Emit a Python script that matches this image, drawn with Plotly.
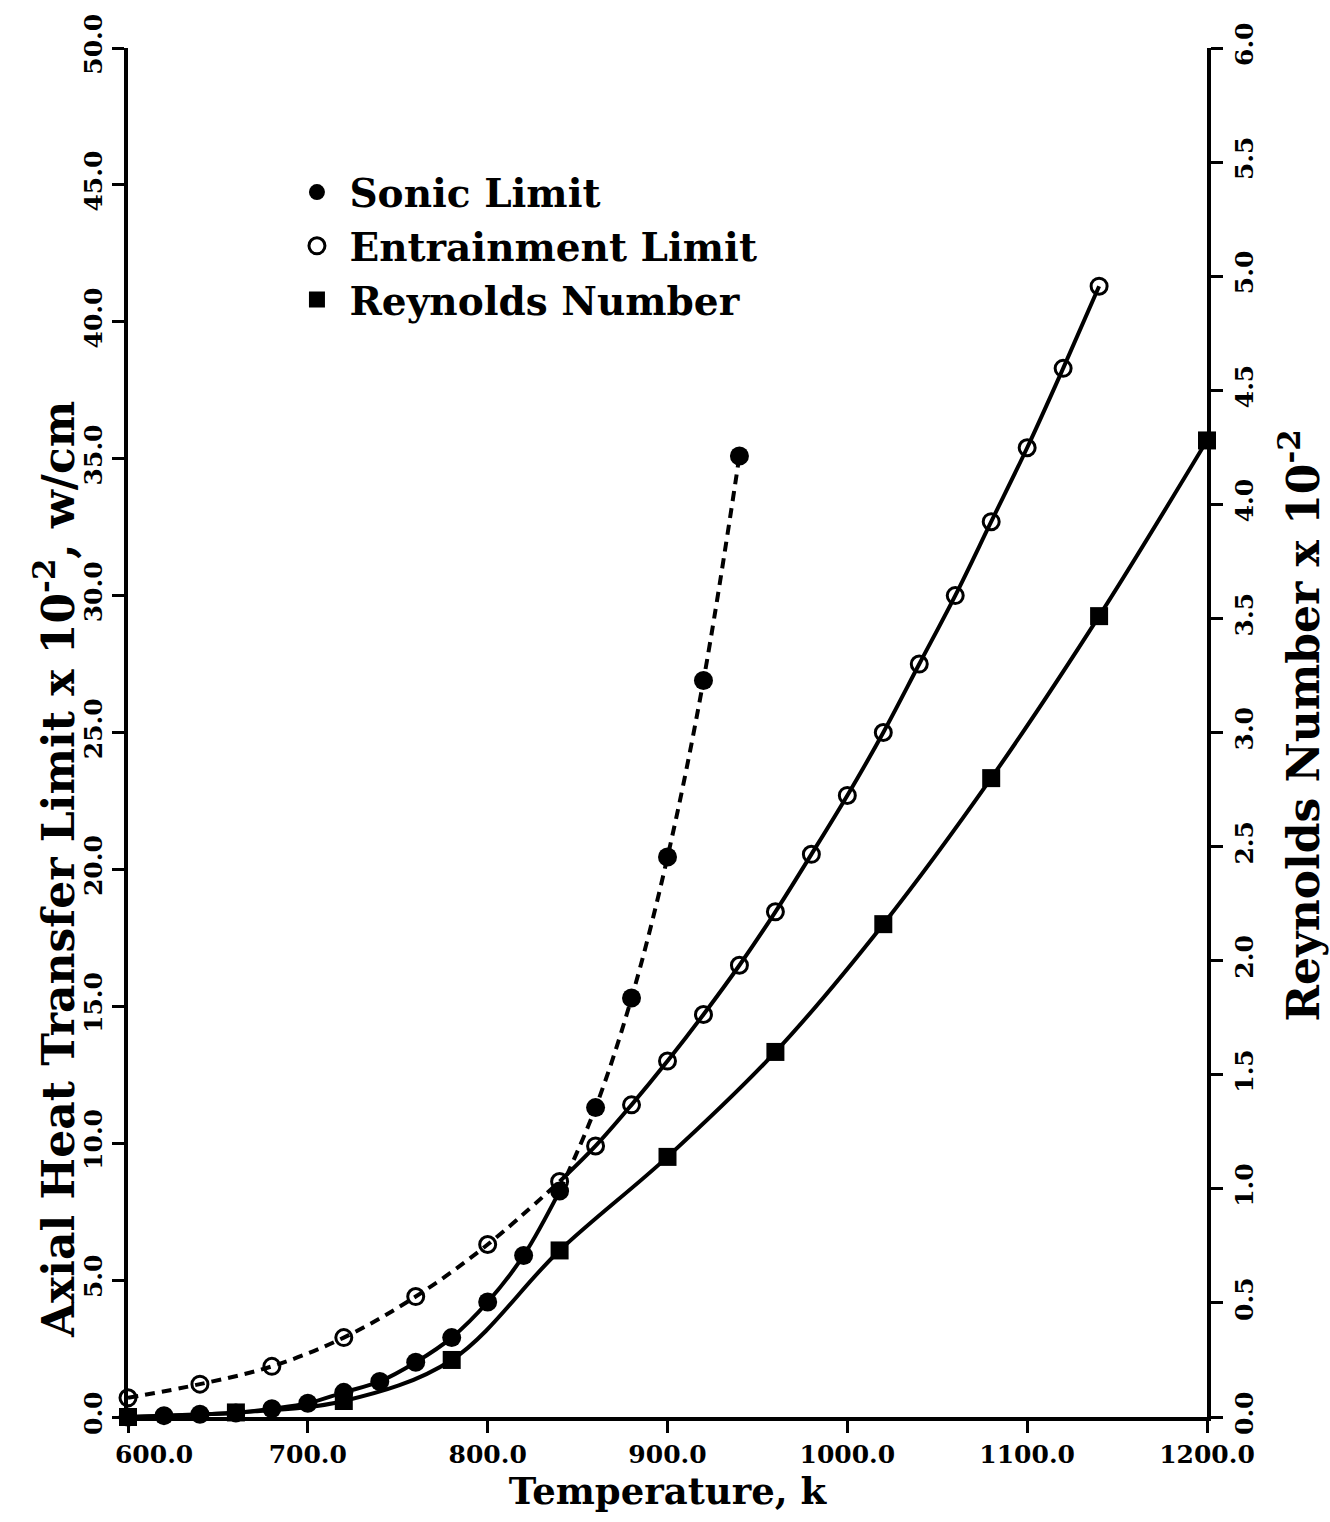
import plotly.graph_objects as go

# ---- data ----
sonic_T = [600, 620, 640, 660, 680, 700, 720, 740, 760, 780, 800, 820, 840, 860, 880, 900, 920, 940]
sonic_Q = [0.0, 0.05, 0.1, 0.15, 0.3, 0.5, 0.9, 1.3, 2.0, 2.9, 4.2, 5.9, 8.25, 11.3, 15.3, 20.45, 26.9, 35.1]

entr_T = [600, 640, 680, 720, 760, 800, 840, 860, 880, 900, 920, 940, 960, 980, 1000, 1020, 1040, 1060, 1080, 1100, 1120, 1140]
entr_Q = [0.7, 1.2, 1.85, 2.9, 4.4, 6.3, 8.6, 9.9, 11.4, 13.0, 14.7, 16.5, 18.45, 20.55, 22.7, 25.0, 27.5, 30.0, 32.7, 35.4, 38.3, 41.3]

re_T = [600, 660, 720, 780, 840, 900, 960, 1020, 1080, 1140, 1200]
re_N = [0.0, 0.02, 0.07, 0.25, 0.73, 1.14, 1.6, 2.16, 2.8, 3.51, 4.28]

switch_T = 840  # governing limit changes near this temperature

x_ticks = [600, 700, 800, 900, 1000, 1100, 1200]
x_ticklabels = ["\u00a0" * 6 + "600.0", "700.0", "800.0", "900.0", "1000.0", "1100.0", "1200.0"]
y_ticks = [0, 5, 10, 15, 20, 25, 30, 35, 40, 45, 50]
y2_ticks = [0, 0.5, 1, 1.5, 2, 2.5, 3, 3.5, 4, 4.5, 5, 5.5, 6]

FONT = "DejaVu Serif"
BLACK = "black"

def split(T, V, at):
    lo = [(t, v) for t, v in zip(T, V) if t <= at]
    hi = [(t, v) for t, v in zip(T, V) if t >= at]
    return ([p[0] for p in lo], [p[1] for p in lo]), ([p[0] for p in hi], [p[1] for p in hi])

fig = go.Figure()

(s_lo, s_hi) = split(sonic_T, sonic_Q, switch_T)
(e_lo, e_hi) = split(entr_T, entr_Q, switch_T)

line_w = 4
DASH = "10px,7px"
fig.add_trace(go.Scatter(x=s_lo[0], y=s_lo[1], mode="lines", line=dict(color=BLACK, width=line_w, shape="spline"),
                         showlegend=False, cliponaxis=False))
fig.add_trace(go.Scatter(x=s_hi[0], y=s_hi[1], mode="lines", line=dict(color=BLACK, width=line_w, dash=DASH, shape="spline"),
                         showlegend=False, cliponaxis=False))
fig.add_trace(go.Scatter(x=e_lo[0], y=e_lo[1], mode="lines", line=dict(color=BLACK, width=line_w, dash=DASH, shape="spline"),
                         showlegend=False, cliponaxis=False))
fig.add_trace(go.Scatter(x=e_hi[0], y=e_hi[1], mode="lines", line=dict(color=BLACK, width=line_w, shape="spline"),
                         showlegend=False, cliponaxis=False))
fig.add_trace(go.Scatter(x=re_T, y=re_N, mode="lines", yaxis="y2", line=dict(color=BLACK, width=line_w, shape="spline"),
                         showlegend=False, cliponaxis=False))

fig.add_trace(go.Scatter(x=sonic_T, y=sonic_Q, mode="markers", name="Sonic Limit",
                         marker=dict(symbol="circle", size=19, color=BLACK), cliponaxis=False))
fig.add_trace(go.Scatter(x=entr_T, y=entr_Q, mode="markers", name="Entrainment Limit",
                         marker=dict(symbol="circle-open", size=16, color=BLACK, line=dict(width=3)), cliponaxis=False))
fig.add_trace(go.Scatter(x=re_T, y=re_N, mode="markers", name="Reynolds Number", yaxis="y2",
                         marker=dict(symbol="square", size=18, color=BLACK), cliponaxis=False))

tick_font = dict(family=FONT, size=25, color=BLACK, weight="bold")
title_font = dict(family=FONT, size=44, color=BLACK, weight="bold")

common = dict(showgrid=False, zeroline=False, showline=True, linecolor=BLACK, linewidth=4,
              ticks="outside", ticklen=12, tickwidth=3, tickcolor=BLACK, tickfont=tick_font)

fig.update_layout(
    width=1330, height=1522,
    margin=dict(l=128, r=123, t=48, b=105),
    paper_bgcolor="white", plot_bgcolor="white",
    font=dict(family=FONT, color=BLACK),
    xaxis=dict(range=[600, 1200], tickvals=x_ticks, ticktext=x_ticklabels,
               title=dict(text="Temperature, k", font=dict(family=FONT, size=37, color=BLACK, weight="bold"), standoff=6),
               **common),
    yaxis=dict(range=[0, 50], tickvals=y_ticks, ticktext=[f"{v:.1f}" for v in y_ticks], tickangle=-90, **common),
    yaxis2=dict(range=[0, 6], tickvals=y2_ticks, ticktext=[f"{v:.1f}" for v in y2_ticks], tickangle=-90,
                overlaying="y", side="right", **common),
    legend=dict(x=0.145, y=0.918, xanchor="left", yanchor="top", bgcolor="rgba(0,0,0,0)",
                font=dict(family=FONT, size=39, color=BLACK, weight="bold"), itemsizing="trace",
                itemwidth=55, tracegroupgap=0),
    annotations=[
        dict(text="Axial Heat Transfer Limit x 10<sup>-2</sup>, w/cm", textangle=-90,
             xref="paper", yref="paper", x=-0.068, y=0.40, xanchor="center", yanchor="middle",
             showarrow=False, font=title_font),
        dict(text="Reynolds Number x 10<sup>-2</sup>", textangle=-90,
             xref="paper", yref="paper", x=1.086, y=0.505, xanchor="center", yanchor="middle",
             showarrow=False, font=title_font),
    ],
)

fig.write_html("out.html")
